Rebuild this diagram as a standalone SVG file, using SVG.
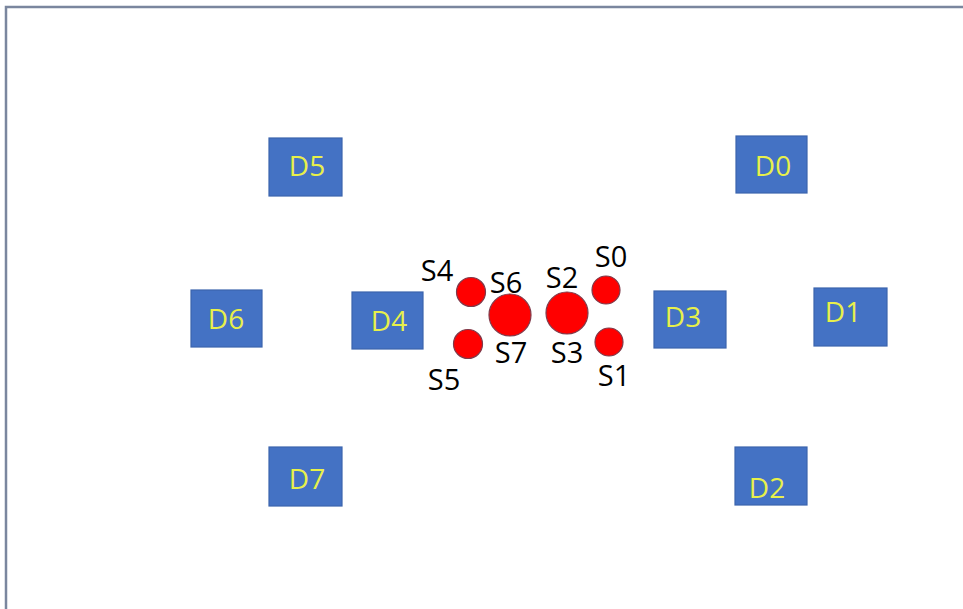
<svg xmlns="http://www.w3.org/2000/svg" width="963" height="609" viewBox="0 0 963 609">
  <style>
    .box { fill: #4472c4; stroke: #3b64ad; stroke-width: 1.2; }
    .dlabel { fill: #e8f04a; font-family: "Open Sans", "DejaVu Sans", sans-serif; font-size: 28px; text-anchor: middle; }
    .dot { fill: #ff0000; stroke: #7f3a4a; stroke-width: 1.2; }
    .slabel { fill: #000000; font-family: "Open Sans", "DejaVu Sans", sans-serif; font-size: 29px; text-anchor: middle; }
    .frame { fill: none; stroke: #7a869e; stroke-width: 2.5; }
  </style>
  <rect width="963" height="609" fill="#ffffff"/>
  <!-- outer frame: top and left edges -->
  <path class="frame" d="M6,609 V7 H963"/>

  <g id="connectors"></g>

  <!-- directional nodes -->
  <g id="D5"><rect class="box" x="269" y="138" width="73" height="58"/><text class="dlabel" x="307" y="176">D5</text></g>
  <g id="D0"><rect class="box" x="736" y="136" width="71" height="57"/><text class="dlabel" x="773" y="176">D0</text></g>
  <g id="D6"><rect class="box" x="191" y="290" width="71" height="57"/><text class="dlabel" x="226" y="329">D6</text></g>
  <g id="D4"><rect class="box" x="352" y="292" width="71" height="57"/><text class="dlabel" x="389" y="331">D4</text></g>
  <g id="D3"><rect class="box" x="654" y="291" width="72" height="57"/><text class="dlabel" x="683" y="327">D3</text></g>
  <g id="D1"><rect class="box" x="814" y="288" width="73" height="58"/><text class="dlabel" x="843" y="322">D1</text></g>
  <g id="D7"><rect class="box" x="269" y="447" width="73" height="59"/><text class="dlabel" x="307" y="489">D7</text></g>
  <g id="D2"><rect class="box" x="735" y="447" width="72" height="58"/><text class="dlabel" x="767" y="498">D2</text></g>

  <!-- source dots and their labels -->
  <g id="S4"><circle class="dot" cx="471" cy="292" r="14.5"/><text class="slabel" x="437" y="281">S4</text></g>
  <g id="S5"><circle class="dot" cx="468" cy="344" r="14.5"/><text class="slabel" x="444" y="390">S5</text></g>
  <g id="S6"><circle class="dot" cx="510" cy="315" r="21"/><text class="slabel" x="506" y="293">S6</text></g>
  <g id="S7"><text class="slabel" x="511" y="363">S7</text></g>
  <g id="S2"><circle class="dot" cx="567" cy="313" r="21"/><text class="slabel" x="562" y="288">S2</text></g>
  <g id="S3"><text class="slabel" x="567" y="363">S3</text></g>
  <g id="S0"><circle class="dot" cx="606" cy="290" r="14"/><text class="slabel" x="611" y="267">S0</text></g>
  <g id="S1"><circle class="dot" cx="609" cy="342" r="14"/><text class="slabel" x="614" y="386">S1</text></g>
</svg>
